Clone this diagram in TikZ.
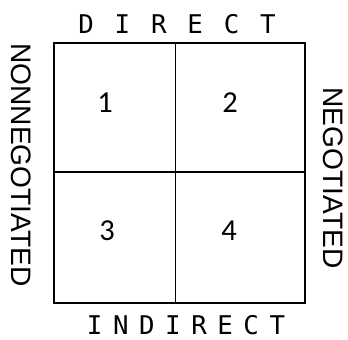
\documentclass[tikz,border=0pt]{standalone}
\usepackage{fontspec}
\setmainfont{Carlito}
\newfontfamily\fonteMono{DejaVu Sans Mono}
\newfontfamily\fonteLado{Liberation Sans}
\begin{document}
\begin{tikzpicture}[x=0.03cm, y=-0.03cm]
\tikzset{
    grade/.style={line width=1.6pt, draw=black},
    numero/.style={inner sep=0pt, font=\fontsize{26}{30}\selectfont},
    topo/.style={inner sep=0pt, font=\fonteMono\fontsize{22}{24}\selectfont},
    lado/.style={inner sep=0pt, rotate=-90, font=\fonteLado\fontsize{24}{28}\selectfont}
}
\useasboundingbox (0,0) rectangle (348,339);

% Quadro
\draw[grade] (54,43) rectangle (305,303);
\draw[grade] (175.5,43) -- (175.5,303);
\draw[grade] (54,172) -- (305,172);

% Quadrantes
\node[numero] (q1) at (105,103) {1};
\node[numero] (q2) at (230,103) {2};
\node[numero] (q3) at (107,231) {3};
\node[numero] (q4) at (229,231) {4};

% Rótulos
\node[topo] (direto)   at (177,24)  {\addfontfeature{LetterSpace=81}DIRECT};
\node[topo] (indireto) at (186,325) {\addfontfeature{LetterSpace=41}INDIRECT};
\node[lado] (naoneg)   at (21,165)  {NONNEGOTIATED};
\node[lado] (neg)      at (333,178) {NEGOTIATED};
\end{tikzpicture}
\end{document}
